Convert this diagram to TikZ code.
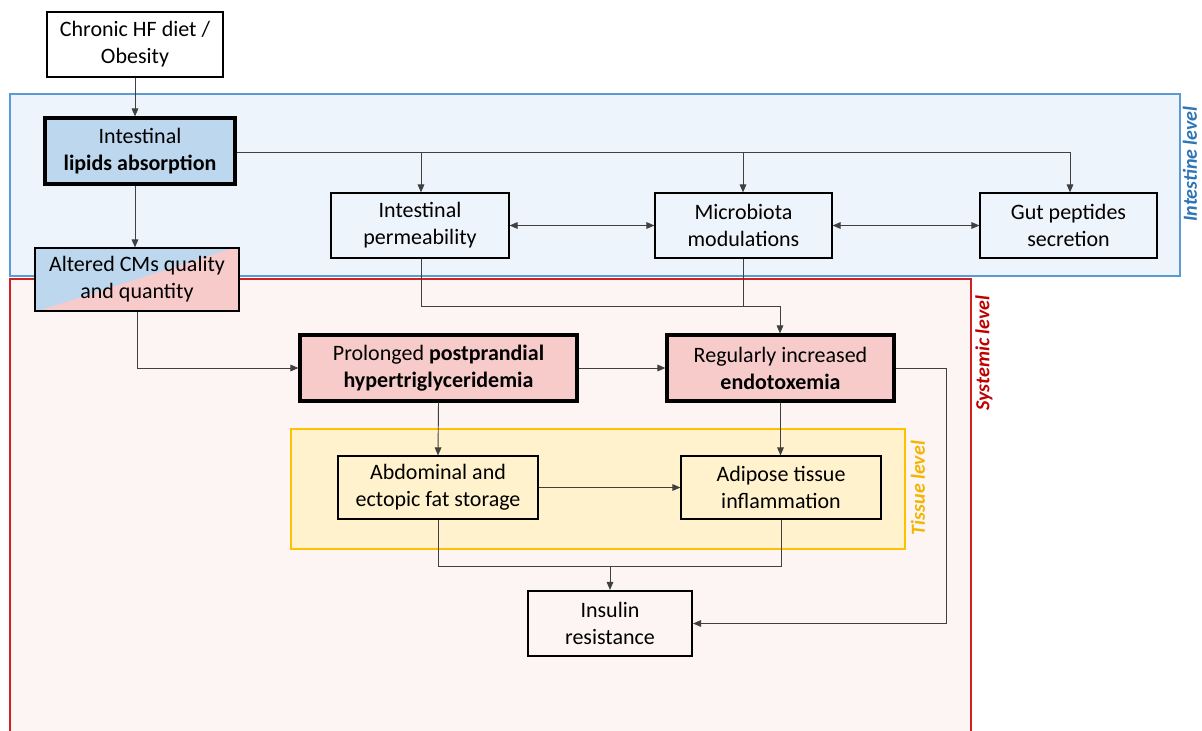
\documentclass[tikz,border=0pt]{standalone}
\usepackage{fontspec}
\setmainfont{Carlito}
\usetikzlibrary{arrows.meta}
\definecolor{lineg}{HTML}{404040}
\definecolor{blueR}{HTML}{5B9BD5}
\definecolor{blueF}{HTML}{EEF4FB}
\definecolor{redR}{HTML}{D02020}
\definecolor{redF}{HTML}{FDF5F3}
\definecolor{yelR}{HTML}{FFC000}
\definecolor{yelF}{HTML}{FFF2CC}
\definecolor{boxB}{HTML}{BDD7EE}
\definecolor{boxP}{HTML}{F8CBCB}
\definecolor{intT}{HTML}{2E75B6}
\definecolor{sysT}{HTML}{C00000}
\definecolor{tisT}{HTML}{F4B400}
\begin{document}
\begin{tikzpicture}[x=0.75pt,y=-0.75pt,
  every node/.style={font=\fontsize{16.5}{20.3}\selectfont, align=center, inner sep=0pt},
  plainbox/.style={draw=black, line width=0.9pt, fill=#1},
  plainbox/.default=white,
  thickbox/.style={draw=black, line width=2.4pt, fill=#1},
  conn/.style={draw=lineg, line width=0.7pt},
  arr/.style={conn, -{Triangle[length=6pt,width=5pt]}},
  darr/.style={conn, {Triangle[length=6pt,width=5pt]}-{Triangle[length=6pt,width=5pt]}},
  lvl/.style={font=\fontsize{15}{17}\selectfont\bfseries\itshape, rotate=90}
]
\useasboundingbox (0,0) rectangle (1202,731);
\fill[white] (0,0) rectangle (1202,731);
% regions
\draw[fill=redF, draw=redR, line width=1pt] (10,279) rectangle (971,740);
\draw[fill=blueF, draw=blueR, line width=1pt] (10,94) rectangle (1180,276);
\draw[fill=yelF, draw=yelR, line width=1pt] (291,429) rectangle (905,549);
\node[lvl, text=intT] (lint) at (1190,164) {Intestine level};
\node[lvl, text=sysT] (lsys) at (984,353) {Systemic level};
\node[lvl, text=tisT] (ltis) at (918,488) {Tissue level};
% boxes
\node[plainbox, minimum width=176*0.75pt, minimum height=65*0.75pt] (diet) at (135,44.5) {Chronic HF diet /\\Obesity};
\node[thickbox=boxB, minimum width=190*0.75pt, minimum height=66*0.75pt] (lip) at (140,151) {Intestinal\\\textbf{lipids absorption}};
% altered CMs split box
\fill[boxP] (35,248) rectangle (239,311);
\fill[boxB] (35,248) -- (233,248) -- (38,311) -- (35,311) -- cycle;
\node[draw=black, line width=0.9pt, minimum width=204*0.75pt, minimum height=63*0.75pt] (cms) at (137,279.5) {Altered CMs quality\\and quantity};
\node[plainbox=blueF, minimum width=178*0.75pt, minimum height=65*0.75pt] (perm) at (420,225.5) {Intestinal\\permeability};
\node[plainbox=blueF, minimum width=177*0.75pt, minimum height=65*0.75pt] (micro) at (743.5,225.5) {Microbiota\\modulations};
\node[plainbox=blueF, minimum width=177*0.75pt, minimum height=65*0.75pt] (gut) at (1068.5,225.5) {Gut peptides\\secretion};
\node[thickbox=boxP, minimum width=277*0.75pt, minimum height=66*0.75pt] (hyper) at (438.5,368) {Prolonged \textbf{postprandial}\\\textbf{hypertriglyceridemia}};
\node[thickbox=boxP, minimum width=227*0.75pt, minimum height=66*0.75pt] (endo) at (780.5,368) {Regularly increased\\\textbf{endotoxemia}};
\node[plainbox=yelF, minimum width=200*0.75pt, minimum height=63*0.75pt] (abd) at (438,487.5) {Abdominal and\\ectopic fat storage};
\node[plainbox=yelF, minimum width=200*0.75pt, minimum height=63*0.75pt] (adi) at (781,487.5) {Adipose tissue\\inflammation};
\node[draw=black, line width=1.6pt, fill=redF, minimum width=164*0.75pt, minimum height=65*0.75pt] (ins) at (610,623.5) {Insulin\\resistance};
% coordinates
\coordinate (j1) at (421,152);
\coordinate (j2) at (743,152);
\coordinate (j3) at (1070,152);
\coordinate (k1) at (421,306);
\coordinate (k2) at (743,306);
\coordinate (k3) at (780,306);
\coordinate (m1) at (438,566);
\coordinate (m2) at (781,566);
\coordinate (m3) at (610,566);
% connectors
\draw[arr] (diet.south) -- (lip.north -| diet.south);
\draw[arr] (lip.south -| diet.south) -- (cms.north -| diet.south);
\draw[conn] (lip.east |- j1) -- (j3);
\draw[arr] (j1) -- (perm.north -| j1);
\draw[arr] (j2) -- (micro.north -| j2);
\draw[arr] (j3) -- (gut.north -| j3);
\draw[darr] (perm.east) -- (micro.west);
\draw[darr] (micro.east) -- (gut.west);
\draw[conn] (perm.south -| k1) -- (k1) -- (k3);
\draw[conn] (micro.south -| k2) -- (k2);
\draw[arr] (k3) -- (endo.north -| k3);
\draw[arr] (cms.south) |- (hyper.west);
\draw[arr] (hyper.east) -- (endo.west);
\draw[arr] (hyper.south) -- (abd.north);
\draw[arr] (endo.south) -- (adi.north -| endo.south);
\draw[arr] (abd.east) -- (adi.west);
\draw[conn] (abd.south) -- (m1) -- (m2) -- (adi.south -| m2);
\draw[arr] (m3) -- (ins.north);
\draw[arr] (endo.east) -- (946,368) -- (946,623.5) -- (ins.east);
\end{tikzpicture}
\end{document}
